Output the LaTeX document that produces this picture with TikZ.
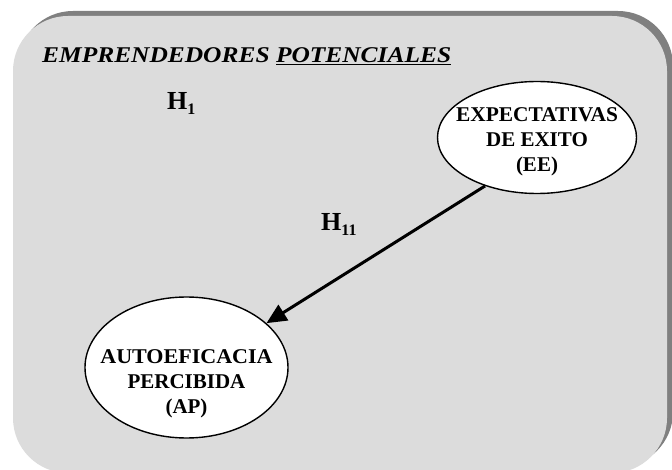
\documentclass[tikz,border=0pt]{standalone}
\usepackage{fontspec}
\setmainfont{Liberation Serif}
\usetikzlibrary{arrows.meta,shapes.geometric}
\begin{document}
\begin{tikzpicture}[x=1pt,y=-1pt,
  panel/.style={fill=panelgray, rounded corners=55pt},
  construct/.style={ellipse, draw=black, line width=1.4pt, fill=white,
    align=center, font=\fontsize{21}{25}\selectfont\bfseries,
    inner xsep=-16pt, inner ysep=-3pt},
  hyp/.style={font=\fontsize{26}{28}\selectfont\bfseries, inner sep=0pt},
  effect/.style={line width=3pt, -{Triangle[length=20pt,width=18pt]}}]
\definecolor{panelgray}{HTML}{DCDCDC}
\definecolor{shadowgray}{HTML}{808080}
\newcommand{\hsub}[1]{\raisebox{-5pt}{\fontsize{16}{16}\selectfont #1}}
\newcommand{\headroom}[1]{\rule{0pt}{#1}}
\useasboundingbox (0,0) rectangle (672,470);
% panel with offset shadow
\fill[shadowgray, rounded corners=55pt] (18,11) rectangle (673,467);
\fill[panel] (13,16) rectangle (667,473);
% heading
\node[anchor=base west, font=\fontsize{22.5}{25}\selectfont\bfseries\itshape, inner sep=0pt]
  (title) at (42,63) {\scalebox{1.13}[1]{EMPRENDEDORES \underline{POTENCIALES}}};
% hypotheses labels
\node[hyp, anchor=base west] (h1) at (167,110) {H\hsub{1}};
\node[hyp, anchor=base west] (h11) at (321,231) {H\hsub{11}};
% constructs
\node[construct, minimum width=199pt, minimum height=112pt] (ee) at (537,137.5)
  {\headroom{22pt}\scalebox{1.02}[1]{EXPECTATIVAS}\\DE EXITO\\(EE)};
\node[construct, minimum width=203pt, minimum height=141pt] (ap) at (186.5,367.5)
  {\headroom{47pt}\scalebox{1.05}[1]{AUTOEFICACIA}\\PERCIBIDA\\(AP)};
% causal path
\draw[effect] (ee.-137) -- (ap.29);
\end{tikzpicture}
\end{document}
